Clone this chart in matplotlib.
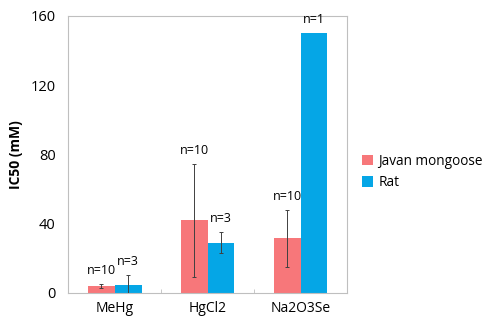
import matplotlib
matplotlib.use('Agg')
import matplotlib.pyplot as plt
import numpy as np

plt.rcParams['font.family'] = ['Open Sans', 'DejaVu Sans']

categories = ['MeHg', 'HgCl2', 'Na2O3Se']
series = ['Javan mongoose', 'Rat']
mongoose = [4.0, 42.0, 31.5]
mongoose_err = [1.2, 32.5, 16.5]
rat = [4.5, 29.0, 150.0]
rat_err = [6.0, 6.0, 0.0]
mongoose_n = ['n=10', 'n=10', 'n=10']
rat_n = ['n=3', 'n=3', 'n=1']

PINK = '#F7777A'
BLUE = '#05A6E6'
GRID = '#BFBFBF'

fig = plt.figure(figsize=(4.86, 3.25), dpi=100)
ax = fig.add_axes([0.140, 0.0985, 0.574, 0.8525])

x = np.arange(len(categories))
w = 0.29
ax.bar(x - w/2, mongoose, w, color=PINK, label=series[0], zorder=2)
ax.bar(x + w/2, rat, w, color=BLUE, label=series[1], zorder=2)

errs = [(x - w/2, mongoose, mongoose_err), (x + w/2, rat, rat_err)]
for xs, vals, e in errs:
    for xi, v, ei in zip(xs, vals, e):
        if ei > 0:
            ax.errorbar(xi, v, yerr=ei, fmt='none', ecolor='#404040',
                        elinewidth=0.7, capsize=1.5, capthick=0.7, zorder=3)

for xi, v, ei, t in zip(x - w/2, mongoose, mongoose_err, mongoose_n):
    ax.text(xi, v + ei + 4, t, ha='center', va='bottom', fontsize=9)
for xi, v, ei, t in zip(x + w/2, rat, rat_err, rat_n):
    ax.text(xi, v + ei + 4, t, ha='center', va='bottom', fontsize=9)

ax.set_xlim(-0.5, 2.5)
ax.set_ylim(0, 160)
ax.set_yticks([0, 40, 80, 120, 160])
ax.set_xticks(x)
ax.set_xticklabels(categories, fontsize=10)
ax.set_xticks([0.5, 1.5], minor=True)
ax.tick_params(axis='x', which='major', length=0, pad=6)
ax.tick_params(axis='x', which='minor', length=3, color=GRID, direction='in')
ax.tick_params(axis='y', length=0, labelsize=10.5, pad=9)
for s in ax.spines.values():
    s.set_color(GRID)
    s.set_linewidth(0.8)
ax.set_ylabel('IC50 (mM)', fontsize=10, fontweight='bold', labelpad=5)

fig.legend(loc='upper left', bbox_to_anchor=(0.72, 0.565), frameon=False,
           fontsize=9.8, handlelength=0.8, handleheight=0.8, handletextpad=0.4,
           labelspacing=0.5)

plt.savefig('out.png', dpi=100, facecolor='white')
